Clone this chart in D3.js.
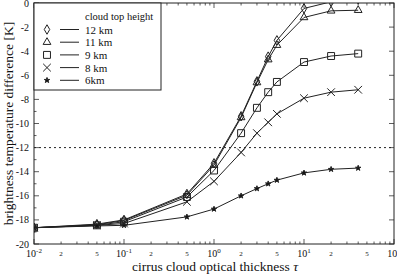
<!DOCTYPE html>
<html lang="en">
<head>
<meta charset="UTF-8">
<title>Cirrus BTD</title>
<script src="https://d3js.org/d3.v7.min.js"></script>
<style>
    body { margin: 0; background: #fff; }
    text { font-family: "Liberation Serif", "DejaVu Serif", serif; fill: #111; }
</style>
</head>
<body>
<script>
    const width = 397, height = 275;

    // optical thickness tau
    const tau = [0.01, 0.05, 0.1, 0.5, 1, 2, 3, 4, 5, 10, 20, 40];
    const h12 = [-18.65, -18.35, -18.0, -15.85, -13.3, -9.4, -6.5, -4.45, -3.1, -0.45, 0.1, 0.3];
    const h11 = [-18.65, -18.4, -18.05, -15.95, -13.45, -9.5, -6.6, -4.7, -3.5, -1.2, -0.65, -0.6];
    const h9  = [-18.65, -18.45, -18.15, -16.1, -13.9, -10.8, -8.7, -7.4, -6.55, -4.9, -4.4, -4.2];
    const h8  = [-18.65, -18.45, -18.3, -16.5, -14.8, -12.4, -10.8, -9.9, -9.2, -7.9, -7.4, -7.2];
    const h6  = [-18.65, -18.5, -18.45, -17.75, -17.1, -16.0, -15.4, -15.0, -14.7, -14.1, -13.8, -13.7];
    const seriesNames = ["12 km", "11 km", "9 km", "8 km", "6km"];
    const seriesValues = [h12, h11, h9, h8, h6];
    const yTicks = [0, -2, -4, -6, -8, -10, -12, -14, -16, -18, -20];
    const threshold = -12;

    const symbols = [
        {type: d3.symbolDiamond, size: 26, fill: "none"},
        {type: d3.symbolTriangle, size: 26, fill: "none"},
        {type: d3.symbolSquare, size: 48, fill: "none"},
        {type: d3.symbolTimes, size: 40, fill: "none"},
        {type: d3.symbolStar, size: 9, fill: "#111"}
    ];

    const x = d3.scaleLog().domain([0.01, 100]).range([34, 394]);
    const y = d3.scaleLinear().domain([-20, 0]).range([244, 3]);

    const svg = d3.select("body").append("svg").attr("width", width).attr("height", height);

    svg.append("clipPath").attr("id", "clip")
       .append("rect").attr("x", 34).attr("y", 3).attr("width", 360).attr("height", 241);

    // ticks
    const minorX = x.ticks();
    const isMajor = d => Math.abs(Math.log10(d) - Math.round(Math.log10(d))) < 1e-9;
    const tickG = svg.append("g").attr("stroke", "#333").attr("stroke-width", 0.8);
    minorX.forEach(d => {
        const len = isMajor(d) ? 5 : 2.5;
        tickG.append("line").attr("x1", x(d)).attr("x2", x(d)).attr("y1", 244).attr("y2", 244 - len);
        tickG.append("line").attr("x1", x(d)).attr("x2", x(d)).attr("y1", 3).attr("y2", 3 + len);
    });
    d3.range(-20, 1, 1).forEach(v => {
        const len = v % 2 === 0 ? 5 : 2.5;
        tickG.append("line").attr("x1", 34).attr("x2", 34 + len).attr("y1", y(v)).attr("y2", y(v));
        if (v % 2 === 0)
            tickG.append("line").attr("x1", 394).attr("x2", 389).attr("y1", y(v)).attr("y2", y(v));
    });

    // y tick labels
    svg.append("g").selectAll("text").data(yTicks).join("text")
       .attr("x", 29).attr("y", d => y(d) + 3.5)
       .attr("text-anchor", "end").attr("font-size", 10)
       .text(d => d === 0 ? "0" : "-" + Math.abs(d));

    // x tick labels
    const xl = svg.append("g");
    x.ticks().filter(d => {
        const m = Math.round(d / Math.pow(10, Math.floor(Math.log10(d) + 1e-9)));
        return m === 1 || m === 2 || m === 5;
    }).forEach(d => {
        const e = Math.round(Math.floor(Math.log10(d) + 1e-9));
        const m = Math.round(d / Math.pow(10, e));
        if (m === 1) {
            const t = xl.append("text").attr("x", x(d)).attr("y", 257)
                        .attr("text-anchor", "middle").attr("font-size", 10);
            t.append("tspan").text("10");
            t.append("tspan").attr("dy", -4).attr("font-size", 7).text(e);
        } else {
            xl.append("text").attr("x", x(d)).attr("y", 256)
              .attr("text-anchor", "middle").attr("font-size", 7).text(m);
        }
    });

    // threshold
    svg.append("line")
       .attr("x1", 34).attr("x2", 394).attr("y1", y(threshold)).attr("y2", y(threshold))
       .attr("stroke", "#222").attr("stroke-width", 1).attr("stroke-dasharray", "2,3");

    // series
    const plot = svg.append("g").attr("clip-path", "url(#clip)");
    const line = d3.line().x((d, i) => x(tau[i])).y(d => y(d));
    seriesValues.forEach((vals, k) => {
        plot.append("path").datum(vals).attr("d", line)
            .attr("fill", "none").attr("stroke", "#222").attr("stroke-width", 1);
        plot.append("g").selectAll("path").data(vals).join("path")
            .attr("transform", (d, i) => `translate(${x(tau[i])},${y(d)})`)
            .attr("d", d3.symbol().type(symbols[k].type).size(symbols[k].size))
            .attr("fill", symbols[k].fill).attr("stroke", "#222").attr("stroke-width", 1);
    });

    // frame
    svg.append("rect").attr("x", 34).attr("y", 3).attr("width", 360).attr("height", 241)
       .attr("fill", "none").attr("stroke", "#222").attr("stroke-width", 1);

    // legend
    const lg = svg.append("g");
    lg.append("rect").attr("x", 34).attr("y", 3).attr("width", 127).attr("height", 87)
      .attr("fill", "#fff").attr("stroke", "#222").attr("stroke-width", 1);
    lg.append("text").attr("x", 85).attr("y", 20).attr("font-size", 10.5).text("cloud top height");
    seriesNames.forEach((name, k) => {
        const cy = 29.5 + k * 12.7;
        lg.append("path").attr("transform", `translate(47,${cy})`)
          .attr("d", d3.symbol().type(symbols[k].type).size(symbols[k].size))
          .attr("fill", symbols[k].fill).attr("stroke", "#222").attr("stroke-width", 1);
        lg.append("line").attr("x1", 60).attr("x2", 79).attr("y1", cy).attr("y2", cy)
          .attr("stroke", "#222").attr("stroke-width", 1);
        lg.append("text").attr("x", 85).attr("y", cy + 4).attr("font-size", 11).text(name);
    });

    // axis titles
    const xt = svg.append("text").attr("x", 215).attr("y", 271)
       .attr("text-anchor", "middle").attr("font-size", 13.5);
    xt.append("tspan").text("cirrus cloud optical thickness ");
    xt.append("tspan").attr("font-style", "italic").text("τ");
    svg.append("text")
       .attr("transform", `translate(13,${(3 + 244) / 2}) rotate(-90)`)
       .attr("text-anchor", "middle").attr("font-size", 13.5)
       .text("brightness temperature difference [K]");
</script>
</body>
</html>
